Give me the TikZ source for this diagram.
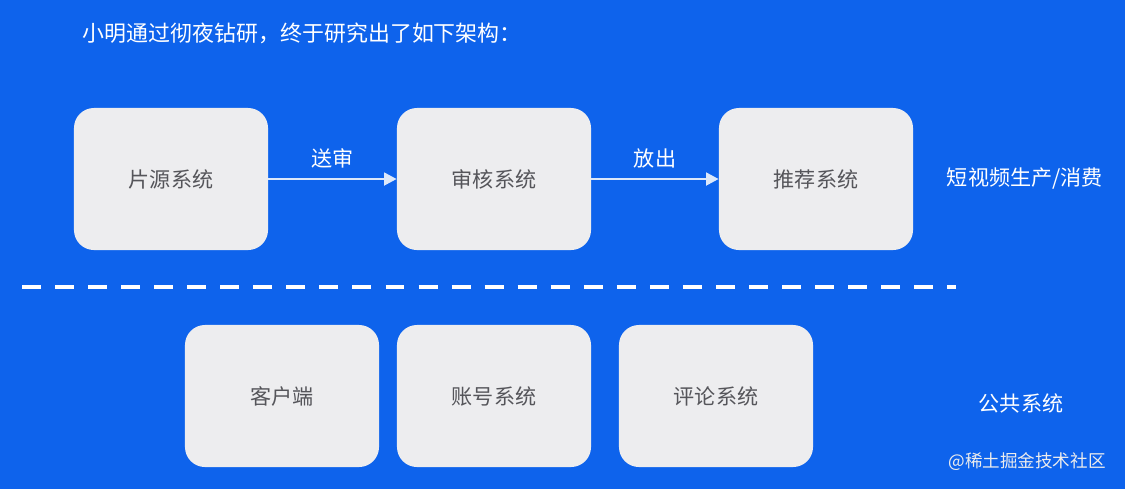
\documentclass[tikz,border=0pt]{standalone}
\usepackage{fontspec}
\setmainfont{Noto Sans CJK SC}
\usepackage{xcolor}
\usetikzlibrary{arrows.meta, positioning}

\definecolor{bgblue}{RGB}{14,99,236}
\definecolor{boxgray}{RGB}{237,237,239}
\definecolor{boxtext}{RGB}{85,85,90}
\definecolor{arrowwhite}{RGB}{220,232,250}

\tikzset{
  sysbox/.style={draw=none, fill=boxgray, rounded corners=0.5cm, minimum width=4.85cm, minimum height=3.55cm, text=boxtext, font=\fontsize{15}{18}\selectfont},
  flow/.style={draw=arrowwhite, line width=2pt, -{Triangle[length=9pt,width=9pt]}},
  lbl/.style={text=white, font=\fontsize{15}{18}\selectfont},
}

\begin{document}
\begin{tikzpicture}[x=0.025cm, y=-0.025cm]
\fill[bgblue] (0,0) rectangle (1125,489);
\useasboundingbox (0,0) rectangle (1125,489);

\node[lbl, anchor=west, font=\fontsize{15.6}{18}\selectfont] (title) at (78,33) {小明通过彻夜钻研，终于研究出了如下架构：};

% top row
\node[sysbox] (src) at (171,179) {片源系统};
\node[sysbox] (audit) at (494,179) {审核系统};
\node[sysbox] (rec) at (816,179) {推荐系统};

\draw[flow] (src) -- node[lbl, above=3pt] {送审} (audit);
\draw[flow] (audit) -- node[lbl, above=3pt] {放出} (rec);

\node[lbl, anchor=west] (prod) at (942,179) {短视频生产/消费};

% separator
\draw[white, line width=3pt, dash pattern=on 13.5pt off 10pt] (22,287) -- (956,287);

% bottom row
\node[sysbox] (client) at (282,396) {客户端};
\node[sysbox] (account) at (494,396) {账号系统};
\node[sysbox] (comment) at (716,396) {评论系统};

\node[lbl] (common) at (1021,403) {公共系统};

\node[text=white!85!gray, font=\fontsize{12.5}{15}\selectfont] (mark) at (1027,462) {@稀土掘金技术社区};
\end{tikzpicture}
\end{document}
